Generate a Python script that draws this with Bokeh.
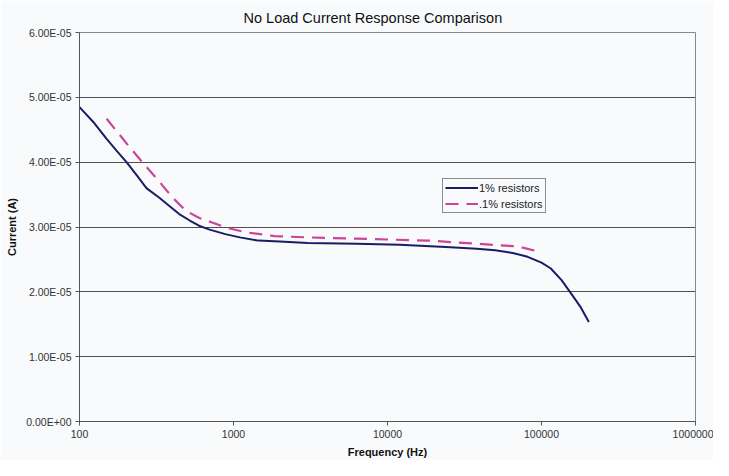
from bokeh.plotting import figure
from bokeh.models import FixedTicker, CustomJSTickFormatter, Range1d, Legend, LegendItem
from bokeh.embed import file_html
from bokeh.resources import INLINE

# Data
freq_1pct = [100, 125, 150, 175, 202, 235, 272, 330, 385, 444, 520, 597, 700, 885, 1100, 1446, 2000, 3030,
             6300, 12000, 23900, 38000, 50000, 65000, 81300, 100000, 115000, 135000, 155000, 180000, 203000]
curr_1pct = [4.85e-5, 4.6e-5, 4.36e-5, 4.17e-5, 4.0e-5, 3.8e-5, 3.6e-5, 3.45e-5, 3.32e-5, 3.2e-5, 3.1e-5, 3.02e-5,
             2.96e-5, 2.89e-5, 2.84e-5, 2.79e-5, 2.775e-5, 2.755e-5, 2.74e-5, 2.725e-5, 2.69e-5, 2.665e-5,
             2.64e-5, 2.60e-5, 2.54e-5, 2.45e-5, 2.36e-5, 2.18e-5, 1.98e-5, 1.76e-5, 1.535e-5]
freq_01pct = [150, 202, 260, 330, 400, 490, 600, 726, 900, 1188, 1850, 3000, 6300, 18600, 38900, 70000, 100000]
curr_01pct = [4.67e-5, 4.29e-5, 3.98e-5, 3.7e-5, 3.46e-5, 3.25e-5, 3.14e-5, 3.07e-5, 2.99e-5, 2.92e-5, 2.86e-5,
              2.84e-5, 2.82e-5, 2.79e-5, 2.74e-5, 2.70e-5, 2.61e-5]
x_ticks = [100, 1000, 10000, 100000, 1000000]
y_ticks = [0, 1e-5, 2e-5, 3e-5, 4e-5, 5e-5, 6e-5]

FONT = "Liberation Sans"
BG = "#f8fafc"

p = figure(width=713, height=460, x_axis_type="log", output_backend="svg", toolbar_location=None,
           x_range=Range1d(100, 1000000), y_range=Range1d(0, 6e-5),
           title="No Load Current Response Comparison",
           min_border_left=79, min_border_right=18, min_border_top=32, min_border_bottom=36)
p.background_fill_color = BG
p.border_fill_color = BG
p.outline_line_color = "#888888"
p.outline_line_width = 1

p.title.align = "left"
p.title.offset = 164
p.title.vertical_align = "top"
p.title.text_font = FONT
p.title.text_font_size = "14.5px"
p.title.text_font_style = "normal"
p.title.text_color = "#111111"

p.xaxis.ticker = FixedTicker(ticks=x_ticks, minor_ticks=[])
p.yaxis.ticker = FixedTicker(ticks=y_ticks, minor_ticks=[])
p.xaxis.formatter = CustomJSTickFormatter(code="return String(Math.round(tick));")
p.yaxis.formatter = CustomJSTickFormatter(code="""
const s = tick.toExponential(2).split('e');
const e = parseInt(s[1]);
const sign = e < 0 ? '-' : '+';
return s[0] + 'E' + sign + String(Math.abs(e)).padStart(2, '0');
""")
for ax in (p.xaxis, p.yaxis):
    ax.major_label_text_font = FONT
    ax.major_label_text_font_size = "10.5px"
    ax.major_label_text_color = "#333333"
    ax.axis_label_text_font = FONT
    ax.axis_label_text_font_size = "11px"
    ax.axis_label_text_font_style = "bold"
    ax.axis_label_text_color = "#111111"
    ax.axis_line_color = "#555555"
    ax.major_tick_line_color = "#555555"
    ax.major_tick_out = 4
    ax.major_tick_in = 0
    ax.minor_tick_line_color = None
p.xaxis.axis_label = "Frequency (Hz)"
p.yaxis.axis_label = "Current (A)"
p.xaxis.major_label_standoff = 4
p.xaxis.axis_label_standoff = 5
p.yaxis.major_label_standoff = 4

p.xgrid.grid_line_color = None
p.ygrid.grid_line_color = "#505050"
p.ygrid.grid_line_width = 1

r1 = p.line(freq_1pct, curr_1pct, line_color="#1c1c66", line_width=2)
r2 = p.line(freq_01pct, curr_01pct, line_color="#cc4499", line_width=2.2, line_dash="13 8")

legend = Legend(items=[LegendItem(label="1% resistors", renderers=[r1]),
                       LegendItem(label=".1% resistors", renderers=[r2])],
                location=(363, 208))
legend.label_text_font = FONT
legend.label_text_font_size = "11px"
legend.label_text_color = "#222222"
legend.border_line_color = "#222222"
legend.border_line_width = 1
legend.background_fill_color = BG
legend.background_fill_alpha = 1
legend.glyph_width = 33
legend.glyph_height = 13
legend.padding = 2
legend.spacing = 3
legend.margin = 0
legend.label_standoff = 1
legend.label_height = 13
p.add_layout(legend)

open("out.html", "w").write(file_html(p, INLINE))
